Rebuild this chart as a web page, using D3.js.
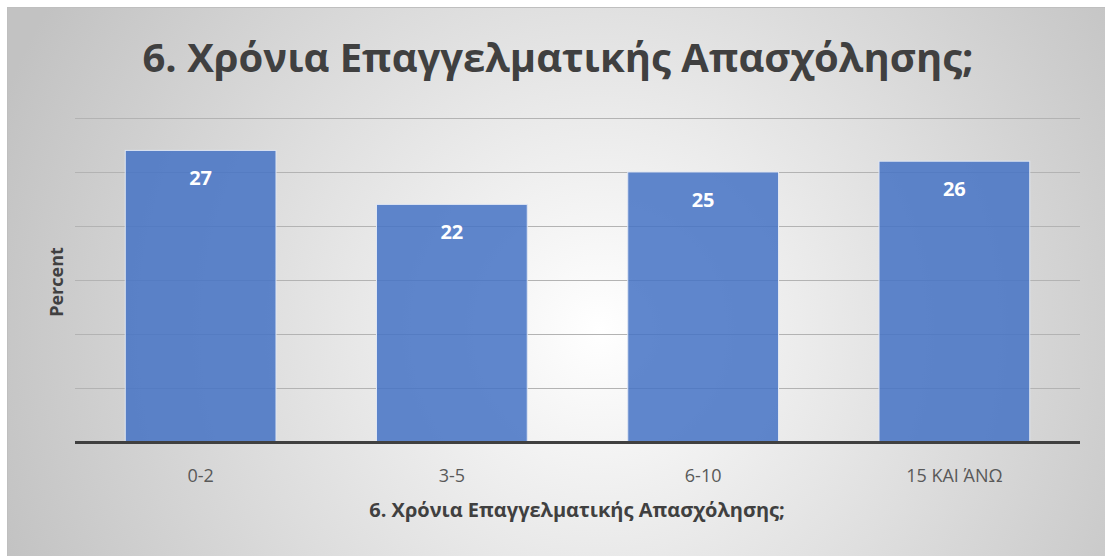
<!DOCTYPE html>
<html>
<head>
<meta charset="utf-8">
<style>
  body { margin: 0; background: #fff; }
  text { font-family: "Open Sans", "Noto Sans", sans-serif; }
</style>
</head>
<body>
<svg id="chart" width="1105" height="556"></svg>
<script src="https://d3js.org/d3.v7.min.js"></script>
<script>
  const categories = ["0-2", "3-5", "6-10", "15 ΚΑΙ ΆΝΩ"];
  const percents = [27, 22, 25, 26];
  const yTicks = [0, 5, 10, 15, 20, 25, 30];

  const titleText = "6. Χρόνια Επαγγελματικής Απασχόλησης;";
  const xTitle = "6. Χρόνια Επαγγελματικής Απασχόλησης;";
  const yTitle = "Percent";

  const svg = d3.select("#chart");
  const margin = { left: 75, right: 25, top: 118, bottom: 114 };
  const width = 1105, height = 556;

  // background gradient
  const defs = svg.append("defs");
  const grad = defs.append("radialGradient")
    .attr("id", "bg")
    .attr("gradientUnits", "userSpaceOnUse")
    .attr("cx", 600).attr("cy", 330).attr("r", 640);
  grad.append("stop").attr("offset", "0%").attr("stop-color", "#ffffff");
  grad.append("stop").attr("offset", "100%").attr("stop-color", "#c2c2c2");

  svg.append("rect")
    .attr("x", 7.5).attr("y", 7.5)
    .attr("width", width).attr("height", height)
    .attr("fill", "url(#bg)")
    .attr("stroke", "#bfbfbf")
    .attr("stroke-width", 1);

  const x = d3.scaleBand()
    .domain(categories)
    .range([margin.left, width - margin.right])
    .paddingInner(0.4)
    .paddingOuter(0.2);

  const y = d3.scaleLinear()
    .domain([0, 30])
    .range([height - margin.bottom, margin.top]);

  // gridlines
  svg.append("g")
    .selectAll("line")
    .data(yTicks.slice(1))
    .join("line")
    .attr("x1", margin.left)
    .attr("x2", width - margin.right)
    .attr("y1", d => Math.round(y(d)) + 0.5)
    .attr("y2", d => Math.round(y(d)) + 0.5)
    .attr("stroke", "#b3b3b3")
    .attr("stroke-width", 1);

  // bars
  svg.append("g")
    .selectAll("rect")
    .data(percents)
    .join("rect")
    .attr("x", (d, i) => x(categories[i]))
    .attr("y", d => y(d))
    .attr("width", x.bandwidth())
    .attr("height", d => y(0) - y(d))
    .attr("fill", "#4472c4")
    .attr("fill-opacity", 0.85)
    .attr("stroke", "#dfe6f3")
    .attr("stroke-width", 1);

  // data labels
  svg.append("g")
    .selectAll("text")
    .data(percents)
    .join("text")
    .attr("x", (d, i) => x(categories[i]) + x.bandwidth() / 2)
    .attr("y", d => y(d) + 35)
    .attr("text-anchor", "middle")
    .attr("fill", "#ffffff")
    .attr("font-weight", "bold")
    .attr("font-size", 20)
    .text(d => d);

  // baseline
  svg.append("line")
    .attr("x1", margin.left)
    .attr("x2", width - margin.right)
    .attr("y1", y(0) + 0.5)
    .attr("y2", y(0) + 0.5)
    .attr("stroke", "#404040")
    .attr("stroke-width", 3);

  // x axis labels
  const xAxis = svg.append("g")
    .attr("transform", `translate(0,${y(0)})`)
    .call(d3.axisBottom(x).tickSize(0));
  xAxis.select(".domain").remove();
  xAxis.selectAll("text")
    .attr("y", 40)
    .attr("dy", null)
    .attr("font-size", 18)
    .attr("fill", "#595959")
    .style("font-family", "'Open Sans', 'Noto Sans', sans-serif");

  // titles
  svg.append("text")
    .attr("x", 558).attr("y", 72)
    .attr("text-anchor", "middle")
    .attr("font-size", 40)
    .attr("font-weight", "bold")
    .attr("fill", "#404040")
    .text(titleText);

  svg.append("text")
    .attr("x", 577).attr("y", 517)
    .attr("text-anchor", "middle")
    .attr("font-size", 20)
    .attr("font-weight", "bold")
    .attr("fill", "#404040")
    .text(xTitle);

  svg.append("text")
    .attr("transform", "translate(63,282) rotate(-90)")
    .attr("text-anchor", "middle")
    .attr("font-size", 18)
    .attr("font-weight", "bold")
    .attr("fill", "#404040")
    .text(yTitle);
</script>
</body>
</html>
